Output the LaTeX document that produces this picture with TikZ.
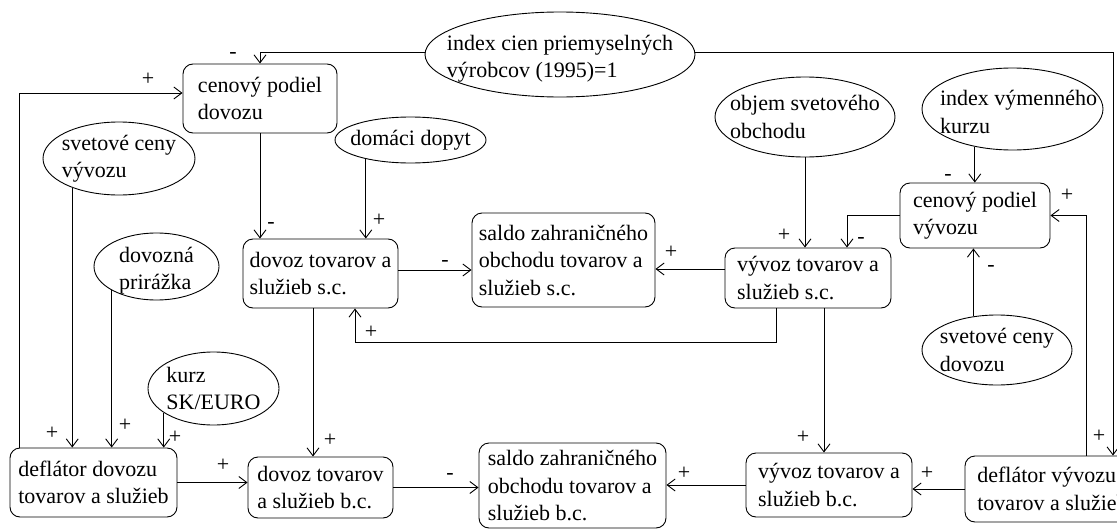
\documentclass[tikz,border=0pt]{standalone}
\usepackage{fontspec}
\setmainfont{Liberation Serif}
\usetikzlibrary{shapes,arrows.meta}

\begin{document}
\begin{tikzpicture}[x=1pt, y=-1pt,
  font=\fontsize{22}{27.5}\selectfont,
  >={Straight Barb[length=8pt,width=12pt]},
  line width=0.9pt,
  box/.style={draw, rounded corners=10pt, align=left, inner sep=0pt},
  oval/.style={draw, ellipse, inner sep=0pt},
  txt/.style={align=left, inner sep=0pt},
  sign/.style={inner sep=0pt}]
\useasboundingbox (0,0) rectangle (1117,530);

% exogenous variables
\node[oval, minimum width=270pt, minimum height=85pt,
  label={[txt, yshift=-4pt]center:index cien priemyselných\\výrobcov (1995)=1}] (idx) at (560,54.5) {};
\node[oval, minimum width=152pt, minimum height=73pt,
  label={[txt]center:svetové ceny\\vývozu}] (scv) at (119,158.5) {};
\node[oval, minimum width=151pt, minimum height=46pt,
  label={[txt]center:domáci dopyt}] (dom) at (410.5,140) {};
\node[oval, minimum width=125pt, minimum height=67pt,
  label={[txt, yshift=-4pt]center:dovozná\\prirážka}] (dp) at (156.5,266.5) {};
\node[oval, minimum width=131pt, minimum height=73pt,
  label={[txt]center:kurz\\SK/EURO}] (kz) at (213.5,388.5) {};
\node[oval, minimum width=180pt, minimum height=80pt,
  label={[txt]center:objem svetového\\obchodu}] (obj) at (805,117) {};
\node[oval, minimum width=181pt, minimum height=82pt,
  label={[txt, xshift=6pt, yshift=-3pt]center:index výmenného\\kurzu}] (ivk) at (1012.5,109) {};
\node[oval, minimum width=150pt, minimum height=70pt,
  label={[txt]center:svetové ceny\\dovozu}] (scd) at (997,350) {};

% model blocks
\node[box, minimum width=154pt, minimum height=69pt] (cpd) at (260,98.5) {cenový podiel\\dovozu};
\node[box, minimum width=155pt, minimum height=69pt] (dsc) at (320.5,273.5) {dovoz tovarov a\\služieb s.c.};
\node[box, minimum width=183pt, minimum height=94pt] (ssc) at (563.5,260) {saldo zahraničného\\obchodu tovarov a\\služieb s.c.};
\node[box, minimum width=166pt, minimum height=60pt] (vsc) at (808,278) {vývoz tovarov a\\služieb s.c.};
\node[box, minimum width=150pt, minimum height=65pt] (cpv) at (975,215.5) {cenový podiel\\vývozu};
\node[box, minimum width=167pt, minimum height=69pt] (dd) at (93.5,482.5) {deflátor dovozu\\tovarov a služieb};
\node[box, minimum width=145pt, minimum height=61pt] (dbc) at (320.5,487.5) {dovoz tovarov\\a služieb b.c.};
\node[box, minimum width=187pt, minimum height=85pt] (sbc) at (572.5,485.5) {saldo zahraničného\\obchodu tovarov a\\služieb b.c.};
\node[box, minimum width=166pt, minimum height=64pt] (vbc) at (829,485) {vývoz tovarov a\\služieb b.c.};
\node[box, minimum width=175pt, minimum height=66pt] (dv) at (1052.5,489) {deflátor vývozu\\tovarov a služieb};

% links
\draw[->] ([yshift=2pt]idx.west) -| (cpd.north);
\draw[->] ([yshift=2pt]idx.east) -| ([xshift=60.5pt]dv.north);
\draw[->] ([xshift=-74.5pt]dd.north) |- ([yshift=5.5pt]cpd.west);
\draw[->] (scv.212) -- (scv.212 |- dd.north);
\draw[->] (dp.208) -- (dp.208 |- dd.north);
\draw[->] (kz.206) -- (kz.206 |- dd.north);
\draw[->] (dom.203) -- (dom.203 |- dsc.north);
\draw[->] (cpd.south) -- (cpd.south |- dsc.north);
\draw[->] ([yshift=3.5pt]dsc.east) -- ([yshift=3.5pt]dsc.east -| ssc.west);
\draw[->] ([yshift=9pt]vsc.west) -- ([yshift=9pt]vsc.west -| ssc.east);
\draw[->] ([xshift=-32pt]vsc.south) -- ++(0,34) -| ([xshift=34.5pt]dsc.south);
\draw[->] ([xshift=-7.5pt]dsc.south) -- ([xshift=-7.5pt]dsc.south |- dbc.north);
\draw[->] (dd.east) -- (dd.east -| dbc.west);
\draw[->] (dbc.east) -- (dbc.east -| sbc.west);
\draw[->] ([xshift=16pt]vsc.south) -- ([xshift=16pt]vsc.south |- vbc.north);
\draw[->] (dv.west) -- (dv.west -| vbc.east);
\draw[->] (vbc.west) -- (vbc.west -| sbc.east);
\draw[->] (obj.south) -- (obj.south |- vsc.north);
\draw[->] (ivk.225) -- (ivk.225 |- cpv.north);
\draw[->] (scd.125) -- (scd.125 |- cpv.south);
\draw[->] (cpv.west) -| ([xshift=39pt]vsc.north);
\draw[->] ([xshift=33.5pt]dv.north) |- (cpv.east);

% signs
\node[sign] (s1) at (233,55) {-};
\node[sign] (s2) at (148,79) {+};
\node[sign] (s3) at (271,225) {-};
\node[sign] (s4) at (379,220) {+};
\node[sign] (s5) at (445,263) {-};
\node[sign] (s6) at (671,252) {+};
\node[sign] (s7) at (371,332) {+};
\node[sign] (s8) at (52,433) {+};
\node[sign] (s9) at (125,425) {+};
\node[sign] (s10) at (175,437) {+};
\node[sign] (s11) at (330,440) {+};
\node[sign] (s12) at (223,465) {+};
\node[sign] (s13) at (450,476) {-};
\node[sign] (s14) at (684,473) {+};
\node[sign] (s15) at (803,437) {+};
\node[sign] (s16) at (927,473) {+};
\node[sign] (s17) at (784,235) {+};
\node[sign] (s18) at (861,240) {-};
\node[sign] (s19) at (948,177) {-};
\node[sign] (s20) at (991,268) {-};
\node[sign] (s21) at (1067,195) {+};
\node[sign] (s22) at (1099,436) {+};
\end{tikzpicture}
\end{document}
